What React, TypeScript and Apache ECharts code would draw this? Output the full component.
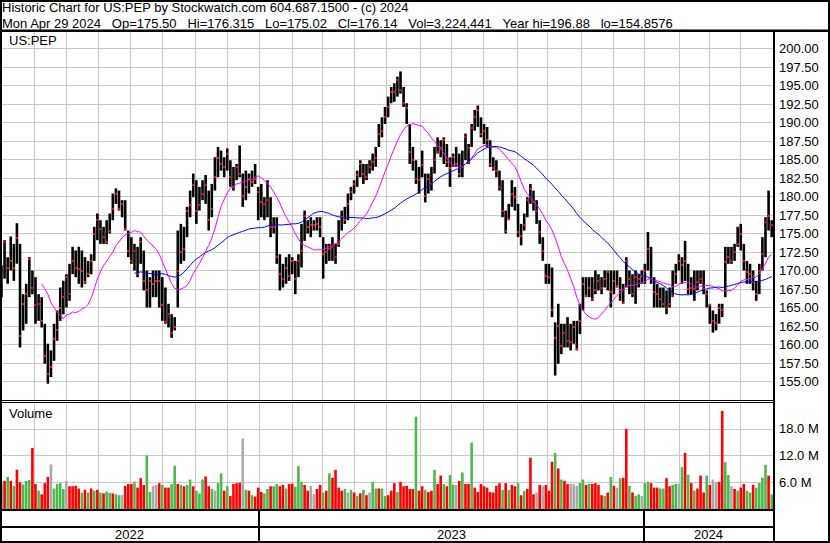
import { useEffect, useRef } from 'react';
import * as echarts from 'echarts';

// Two-trading-day bars (bar k covers trading days 2k, 2k+1), May 2022 - Apr 29 2024
const lows = [
  166.5,166.4,168.9,168.2,170.0,168.6,170.9,159.6,161.9,162.8,
  166.4,166.8,162.8,163.2,162.3,157.4,154.7,155.6,157.8,160.5,
  163.2,164.1,165.0,165.9,169.5,169.1,168.2,167.7,168.2,169.1,
  169.5,171.3,174.1,173.6,173.6,173.6,175.0,176.8,179.0,178.1,
  177.2,175.4,171.8,170.9,170.0,169.1,170.9,167.3,165.0,165.0,
  166.4,166.4,165.0,163.2,162.8,162.3,160.9,161.9,165.0,170.9,
  171.3,174.5,177.2,179.9,176.3,178.1,179.5,179.0,175.4,177.2,
  180.8,182.6,183.5,182.6,183.5,181.3,180.8,182.2,182.6,178.6,
  179.5,180.4,181.3,181.7,176.8,177.2,176.8,177.2,174.5,175.0,
  170.9,167.3,167.7,168.2,168.6,169.5,166.8,169.1,170.4,174.0,
  175.0,174.5,175.4,175.4,174.5,168.9,170.9,171.3,171.3,170.9,
  173.2,175.4,176.3,176.8,179.5,180.4,181.3,182.6,181.7,182.2,
  183.1,183.5,184.0,186.7,188.0,189.8,190.7,192.6,192.8,193.5,
  193.9,192.1,189.8,184.4,183.5,181.7,180.4,182.6,179.2,180.4,
  180.8,183.1,185.8,185.3,184.4,184.0,181.3,184.0,184.0,182.6,
  182.6,184.9,184.4,186.7,188.9,189.4,188.0,187.1,186.7,184.0,
  183.5,182.6,180.8,177.2,175.0,176.8,178.6,178.1,174.5,173.4,
  175.4,177.2,179.0,178.1,176.3,173.6,171.3,168.2,168.2,163.7,
  155.8,157.4,158.7,159.6,159.6,159.2,160.1,159.2,161.4,164.6,
  166.4,166.4,165.9,166.8,167.3,166.8,167.7,167.3,165.0,166.8,
  167.7,165.9,165.5,167.7,166.8,166.4,165.5,167.7,168.2,168.2,
  170.0,168.2,165.0,165.0,165.0,165.0,164.1,165.0,166.4,168.2,
  170.0,168.2,168.6,166.8,166.8,165.9,167.3,168.2,166.8,165.0,
  162.8,161.6,161.9,162.8,163.7,166.4,170.9,170.9,171.3,173.2,
  172.7,170.0,168.2,168.2,167.3,165.9,166.8,170.0,171.8,175.4,174.5,
];
const highs = [
  170.5,170.7,174.1,171.8,174.6,173.6,176.4,173.6,166.8,168.2,
  171.8,170.0,169.1,166.8,166.4,162.8,160.1,159.2,162.8,164.6,
  167.7,168.6,169.5,170.9,173.2,172.7,173.2,172.7,171.8,171.3,
  172.2,175.9,177.7,176.8,175.9,176.8,177.7,180.4,181.1,180.8,
  179.5,179.5,175.4,174.5,173.6,173.2,174.5,172.7,170.0,169.1,
  170.0,170.0,170.0,169.1,167.7,165.5,164.1,163.7,175.4,176.3,
  175.9,178.6,180.8,183.1,182.2,181.3,182.2,182.9,180.8,181.7,
  185.3,186.7,186.2,185.3,186.5,184.9,184.0,184.4,186.9,183.1,
  183.5,183.1,183.5,184.4,181.3,181.7,179.9,182.2,179.9,177.2,
  177.2,172.2,170.9,171.8,172.2,171.8,171.3,172.2,176.3,178.1,
  176.8,177.2,176.8,177.2,177.2,174.5,173.6,173.6,174.5,173.6,
  176.8,178.1,178.6,180.4,181.3,182.2,183.5,184.9,184.4,184.4,
  184.9,185.8,186.7,189.8,190.7,192.1,193.5,194.8,195.3,196.2,
  196.9,194.8,192.6,189.8,186.7,184.9,184.0,186.2,183.1,183.1,
  184.0,186.7,188.0,187.6,188.0,187.1,185.3,185.8,186.7,185.8,
  186.2,188.5,187.1,189.8,191.7,192.3,190.7,189.8,189.4,187.6,
  185.3,184.9,183.5,182.2,178.1,179.0,182.2,181.3,179.0,176.3,
  177.7,179.9,181.7,180.8,179.5,176.8,174.5,170.9,170.9,170.4,
  163.0,165.5,162.8,162.8,163.7,162.8,163.2,163.2,165.5,169.1,
  169.1,169.1,169.1,170.0,169.5,169.1,170.0,170.0,170.0,170.0,
  170.0,169.1,168.2,171.8,170.0,169.5,170.0,169.5,170.0,170.9,
  175.2,173.2,169.1,168.2,167.7,167.7,167.3,167.7,170.0,170.9,
  172.2,171.8,174.0,170.9,169.1,170.0,170.0,170.0,170.0,167.3,
  165.5,164.6,164.1,165.5,165.5,173.2,173.2,173.2,173.6,175.9,
  176.3,173.6,171.3,170.9,170.0,168.6,170.9,174.5,177.2,180.8,176.8,
];
const closes = [
  167.5,167.6,173.9,170.4,171.3,170.4,174.4,161.2,165.5,166.8,
  171.6,167.7,165.3,165.5,163.2,158.5,156.0,156.9,160.7,161.9,
  165.0,166.4,169.1,166.8,171.3,170.4,170.2,170.0,168.4,169.5,
  171.3,174.9,176.8,175.6,174.5,173.8,175.4,178.3,180.4,178.3,
  179.0,175.6,172.7,171.3,172.7,169.5,173.8,168.6,167.3,168.6,
  168.2,168.6,168.6,165.3,163.0,164.1,161.6,162.3,170.0,172.5,
  172.9,178.1,178.8,181.5,178.1,178.8,180.4,181.6,176.8,178.3,
  182.6,185.2,184.4,184.0,185.8,182.6,181.3,184.0,183.1,180.1,
  181.3,182.4,181.9,182.4,180.6,179.2,179.0,179.5,175.9,175.9,
  171.8,169.5,168.9,170.4,169.3,171.3,168.9,171.3,172.7,177.4,
  175.9,176.2,176.2,176.3,175.9,172.2,172.5,172.9,173.2,171.8,
  173.6,177.2,176.8,179.0,180.6,181.7,182.9,184.4,183.1,182.6,
  184.0,184.7,185.2,188.4,188.9,190.8,192.1,194.1,194.1,195.7,
  194.4,192.6,191.9,186.0,184.9,182.4,182.2,184.2,180.1,182.4,
  181.7,184.9,186.0,186.5,187.6,184.7,183.8,185.3,184.4,183.1,
  184.0,188.1,186.5,189.2,190.8,191.7,188.5,188.9,187.6,184.4,
  183.8,183.5,181.3,178.1,175.4,177.0,180.4,179.9,175.2,174.7,
  176.1,179.5,181.0,179.2,178.1,175.2,172.7,169.3,169.1,164.6,
  160.9,162.5,159.8,161.6,160.5,160.3,162.3,159.4,163.2,168.2,
  166.6,167.7,166.2,167.3,168.6,167.7,168.9,169.8,167.1,168.6,
  167.9,167.3,165.6,171.3,168.9,166.8,169.1,168.9,169.3,170.0,
  172.9,168.9,167.1,166.8,166.2,165.5,165.0,165.5,166.6,169.5,
  171.3,170.7,171.3,167.5,167.7,167.5,168.4,168.9,167.5,166.8,
  165.3,163.2,162.9,165.0,164.6,171.1,171.8,171.3,172.5,173.6,
  175.0,171.3,169.8,169.5,168.4,166.8,170.0,172.2,176.5,177.4,176.1,
];
// volume in millions of shares
const volumes = [
  7.6,6.0,6.3,7.2,6.3,5.2,8.8,6.0,5.5,6.3,
  6.5,13.7,5.6,4.1,3.3,5.8,7.2,10.0,4.6,5.6,
  5.8,4.5,6.3,5.1,5.1,5.2,4.6,3.7,4.3,3.7,
  4.6,4.1,4.3,3.7,3.5,3.9,3.6,3.5,3.3,3.1,
  3.1,5.2,5.6,5.6,6.1,4.8,6.9,5.4,12.0,3.8,
  5.2,5.4,5.8,5.4,4.8,4.8,5.6,9.7,5.6,5.4,
  5.1,5.4,6.6,5.1,4.1,3.5,6.6,7.3,5.1,4.5,
  4.1,5.8,8.0,4.1,5.1,2.9,5.6,5.8,5.9,15.8,
  4.3,4.1,3.1,2.8,4.8,3.8,3.5,4.5,5.1,5.1,
  5.6,5.1,5.4,4.6,5.6,5.7,5.0,9.6,6.1,5.4,
  4.1,5.2,3.3,4.5,5.4,3.7,4.1,8.0,7.0,8.8,
  4.8,4.1,4.5,3.7,4.3,3.7,2.9,3.5,4.3,3.1,
  3.7,6.1,4.6,4.6,4.6,2.9,3.1,4.1,5.8,3.8,
  6.1,5.1,5.2,4.5,4.5,20.7,4.1,5.1,4.3,3.8,
  4.1,8.8,5.6,7.5,5.6,5.1,7.6,5.5,5.4,6.3,
  8.2,5.6,5.6,14.9,4.8,3.8,5.6,5.1,4.8,3.8,
  3.7,5.2,5.8,4.3,5.8,4.3,5.4,5.1,5.8,3.1,
  4.1,4.5,11.5,3.3,3.7,5.4,5.2,5.4,4.1,10.6,
  12.6,9.1,6.6,6.3,5.6,5.6,5.6,5.2,5.8,6.6,
  5.4,5.6,5.6,5.8,5.4,3.1,2.9,3.7,7.2,5.2,
  4.8,6.9,7.0,18.0,5.2,3.7,2.9,3.3,2.9,5.8,
  6.1,5.8,4.8,4.8,4.6,4.6,6.9,5.1,5.4,5.6,
  5.6,9.4,12.6,7.7,5.8,4.1,4.6,7.5,3.7,7.5,
  5.4,6.6,6.1,6.1,22.0,10.5,7.6,5.1,4.5,4.1,
  4.8,5.6,4.1,3.7,5.4,4.8,5.8,7.0,9.9,7.5,3.3,
];
// g = up day, r = down day, n = unchanged
const volumeDirection = (
  'ngrgrgrrgg' + 'grrgrrrngg' + 'ggnrrrrgrg' + 'rgrgrggrgg' + 'nrrrgrrrgg' +
  'nnrgrrggrg' + 'rggrgggrrg' + 'nggrgrrrrn' + 'grgrrrggrg' + 'grrgrrgggr' +
  'rnnrrgrgrr' + 'rrgngrgrgr' + 'nggrggrrrg' + 'rrrrrgrrgr' + 'rgrrgrggnr' +
  'grrgrrrrrr' + 'rrrgrgrrgr' + 'grrrnrnrrr' + 'grgrrnnngg' + 'rgrrrrgrgr' +
  'ngrrgrggng' + 'grrrggrrgg' + 'ngrgrgrrrg' + 'rnnrrggnrg' + 'rrggrggggrg'
).split('');

// month gridlines and year boundaries, as trading-day positions (day 0 = May 2 2022)
const monthLines = [23.5, 44, 65, 85.5, 106.5, 127.5, 148.5, 169, 190.5, 210, 230.5, 251, 273, 293, 314, 336, 355, 377, 398, 418, 440.5, 460, 480];
const yearBreaks = [169, 418];
const yearLabels = ['2022', '2023', '2024'];

const headerLine1 = 'Historic Chart for US:PEP by Stockwatch.com 604.687.1500 - (c) 2024';
const headerItems = ['Mon Apr 29 2024', 'Op=175.50', 'Hi=176.315', 'Lo=175.02', 'Cl=176.14', 'Vol=3,224,441', 'Year hi=196.88', 'lo=154.8576'];

const FONT = '"Liberation Sans", Arial, Helvetica, sans-serif';
const GRID = '#c8c8c8';
const VOL_COLORS: Record<string, string> = { g: '#4db84d', r: '#ff0000', n: '#aaaaaa' };
const X_MIN = 1.552;
const X_MAX = 501.35;

const dayOf = (k: number) => 2 * k + 0.5;

function sma(n: number) {
  const out: number[][] = [];
  for (let i = n - 1; i < closes.length; i++) {
    let s = 0;
    for (let j = i - n + 1; j <= i; j++) s += closes[j];
    out.push([dayOf(i), s / n]);
  }
  return out;
}

export default function App() {
  const ref = useRef<HTMLDivElement>(null);

  useEffect(() => {
    document.body.style.margin = '0';
    const chart = echarts.init(ref.current!, null, { renderer: 'svg' });

    const ohlc = lows.map((lo, k) => [dayOf(k), lo, highs[k], closes[k]]);
    const vol = volumes.map((v, k) => [dayOf(k), v]);
    const grids = monthLines.map((d) => [d, 0]);

    const gridRender = (params: any, api: any) => {
      const cs = params.coordSys;
      const x = Math.round(api.coord([api.value(0), api.value(1)])[0]) + 0.5;
      return {
        type: 'line',
        shape: { x1: x, y1: cs.y, x2: x, y2: cs.y + cs.height },
        style: { stroke: GRID, lineWidth: 1 },
      };
    };

    const axisLabel = {
      color: '#000',
      fontSize: 13,
      fontFamily: FONT,
      margin: 6,
    };

    chart.setOption({
      animation: false,
      grid: [
        { left: 0, top: 30, width: 773, height: 370 },
        { left: 0, top: 402, width: 773, height: 107 },
      ],
      xAxis: [
        { gridIndex: 0, type: 'value', min: X_MIN, max: X_MAX, show: false },
        { gridIndex: 1, type: 'value', min: X_MIN, max: X_MAX, show: false },
      ],
      yAxis: [
        {
          gridIndex: 0, type: 'value', position: 'right', min: 152.5, max: 202.5, interval: 2.5,
          axisLine: { show: false }, axisTick: { show: false },
          axisLabel: { ...axisLabel, formatter: (v: number) => (v < 154 || v > 201 ? '' : v.toFixed(2)) },
          splitLine: { lineStyle: { color: GRID, width: 1 } },
        },
        {
          gridIndex: 1, type: 'value', position: 'right', min: 0, max: 24, interval: 6,
          axisLine: { show: false }, axisTick: { show: false },
          axisLabel: { ...axisLabel, formatter: (v: number) => (v <= 0 || v >= 24 ? '' : v.toFixed(1) + ' M') },
          splitLine: { lineStyle: { color: GRID, width: 1 } },
        },
      ],
      series: [
        {
          type: 'custom', xAxisIndex: 0, yAxisIndex: 0, z: 1, silent: true,
          data: grids, renderItem: gridRender,
        },
        {
          type: 'custom', xAxisIndex: 1, yAxisIndex: 1, z: 1, silent: true,
          data: grids, renderItem: gridRender,
        },
        {
          type: 'custom', xAxisIndex: 0, yAxisIndex: 0, z: 2, silent: true,
          data: ohlc,
          encode: { x: 0, y: [1, 2, 3] },
          renderItem: (params: any, api: any) => {
            const d = api.value(0);
            const pLo = api.coord([d, api.value(1)]);
            const pHi = api.coord([d, api.value(2)]);
            const pCl = api.coord([d, api.value(3)]);
            const x = pLo[0];
            return {
              type: 'group',
              children: [
                { type: 'rect', shape: { x: x - 1.3, y: pHi[1], width: 2.6, height: Math.max(1, pLo[1] - pHi[1]) }, style: { fill: '#000' } },
                { type: 'rect', shape: { x: Math.round(x) - 1, y: Math.round(pCl[1]) - 1, width: 2, height: 2 }, style: { fill: '#ff0000' } },
              ],
            };
          },
        },
        {
          type: 'line', xAxisIndex: 0, yAxisIndex: 0, z: 3, silent: true,
          data: sma(15), showSymbol: false, symbol: 'none',
          lineStyle: { color: '#ff00ff', width: 1 },
        },
        {
          type: 'line', xAxisIndex: 0, yAxisIndex: 0, z: 3, silent: true,
          data: sma(45), showSymbol: false, symbol: 'none',
          lineStyle: { color: '#0000ff', width: 1 },
        },
        {
          type: 'custom', xAxisIndex: 1, yAxisIndex: 1, z: 2, silent: true,
          data: vol,
          encode: { x: 0, y: 1 },
          renderItem: (params: any, api: any) => {
            const d = api.value(0);
            const top = api.coord([d, api.value(1)]);
            const base = api.coord([d, 0]);
            const x = top[0];
            return {
              type: 'rect',
              shape: { x: x - 1.3, y: top[1], width: 2.6, height: base[1] - top[1] },
              style: { fill: VOL_COLORS[volumeDirection[params.dataIndex]] || VOL_COLORS.n },
            };
          },
        },
      ],
    });

    const px = (v: number) => chart.convertToPixel({ xAxisIndex: 0 }, v) as number;
    const xStart = 0;
    const xEnd = px(X_MAX);
    const breaks = yearBreaks.map(px);
    const edges = [xStart, ...breaks, xEnd];

    const txt = (x: number, y: number, text: string, align = 'left') => ({
      type: 'text', x, y, silent: true, z: 100,
      style: { text, fill: '#000', fontSize: 13, fontFamily: FONT, align, verticalAlign: 'middle' },
    });
    const box = (x: number, y: number, w: number, h: number) => ({
      type: 'rect', silent: true, z: 100,
      shape: { x, y, width: w, height: h },
      style: { fill: '#000' },
    });

    const nb = '\u00a0\u00a0\u00a0';
    const graphic: any[] = [
      txt(2, 7.5, headerLine1),
      txt(2, 23, headerItems.join(nb)),
      txt(9, 40.5, 'US:PEP'),
      txt(9, 413, 'Volume'),
      box(0, 29.5, 830, 2.5),
      box(773, 31, 2, 511),
      box(0, 400, 773, 1),
      box(0, 402, 773, 1),
      box(0, 509, 773, 2),
      box(0, 526, 773, 2),
      ...breaks.map((b) => box(Math.round(b) - 1, 511, 2, 30)),
      ...yearLabels.map((label, i) => txt((edges[i] + edges[i + 1]) / 2, 534.5, label, 'center')),
      {
        type: 'rect', silent: true, z: 101,
        shape: { x: 1, y: 1, width: 828, height: 541 },
        style: { fill: 'none', stroke: '#000', lineWidth: 2 },
      },
    ];
    chart.setOption({ graphic });

    return () => chart.dispose();
  }, []);

  return <div ref={ref} style={{ width: 830, height: 543, background: '#fff' }} />;
}
